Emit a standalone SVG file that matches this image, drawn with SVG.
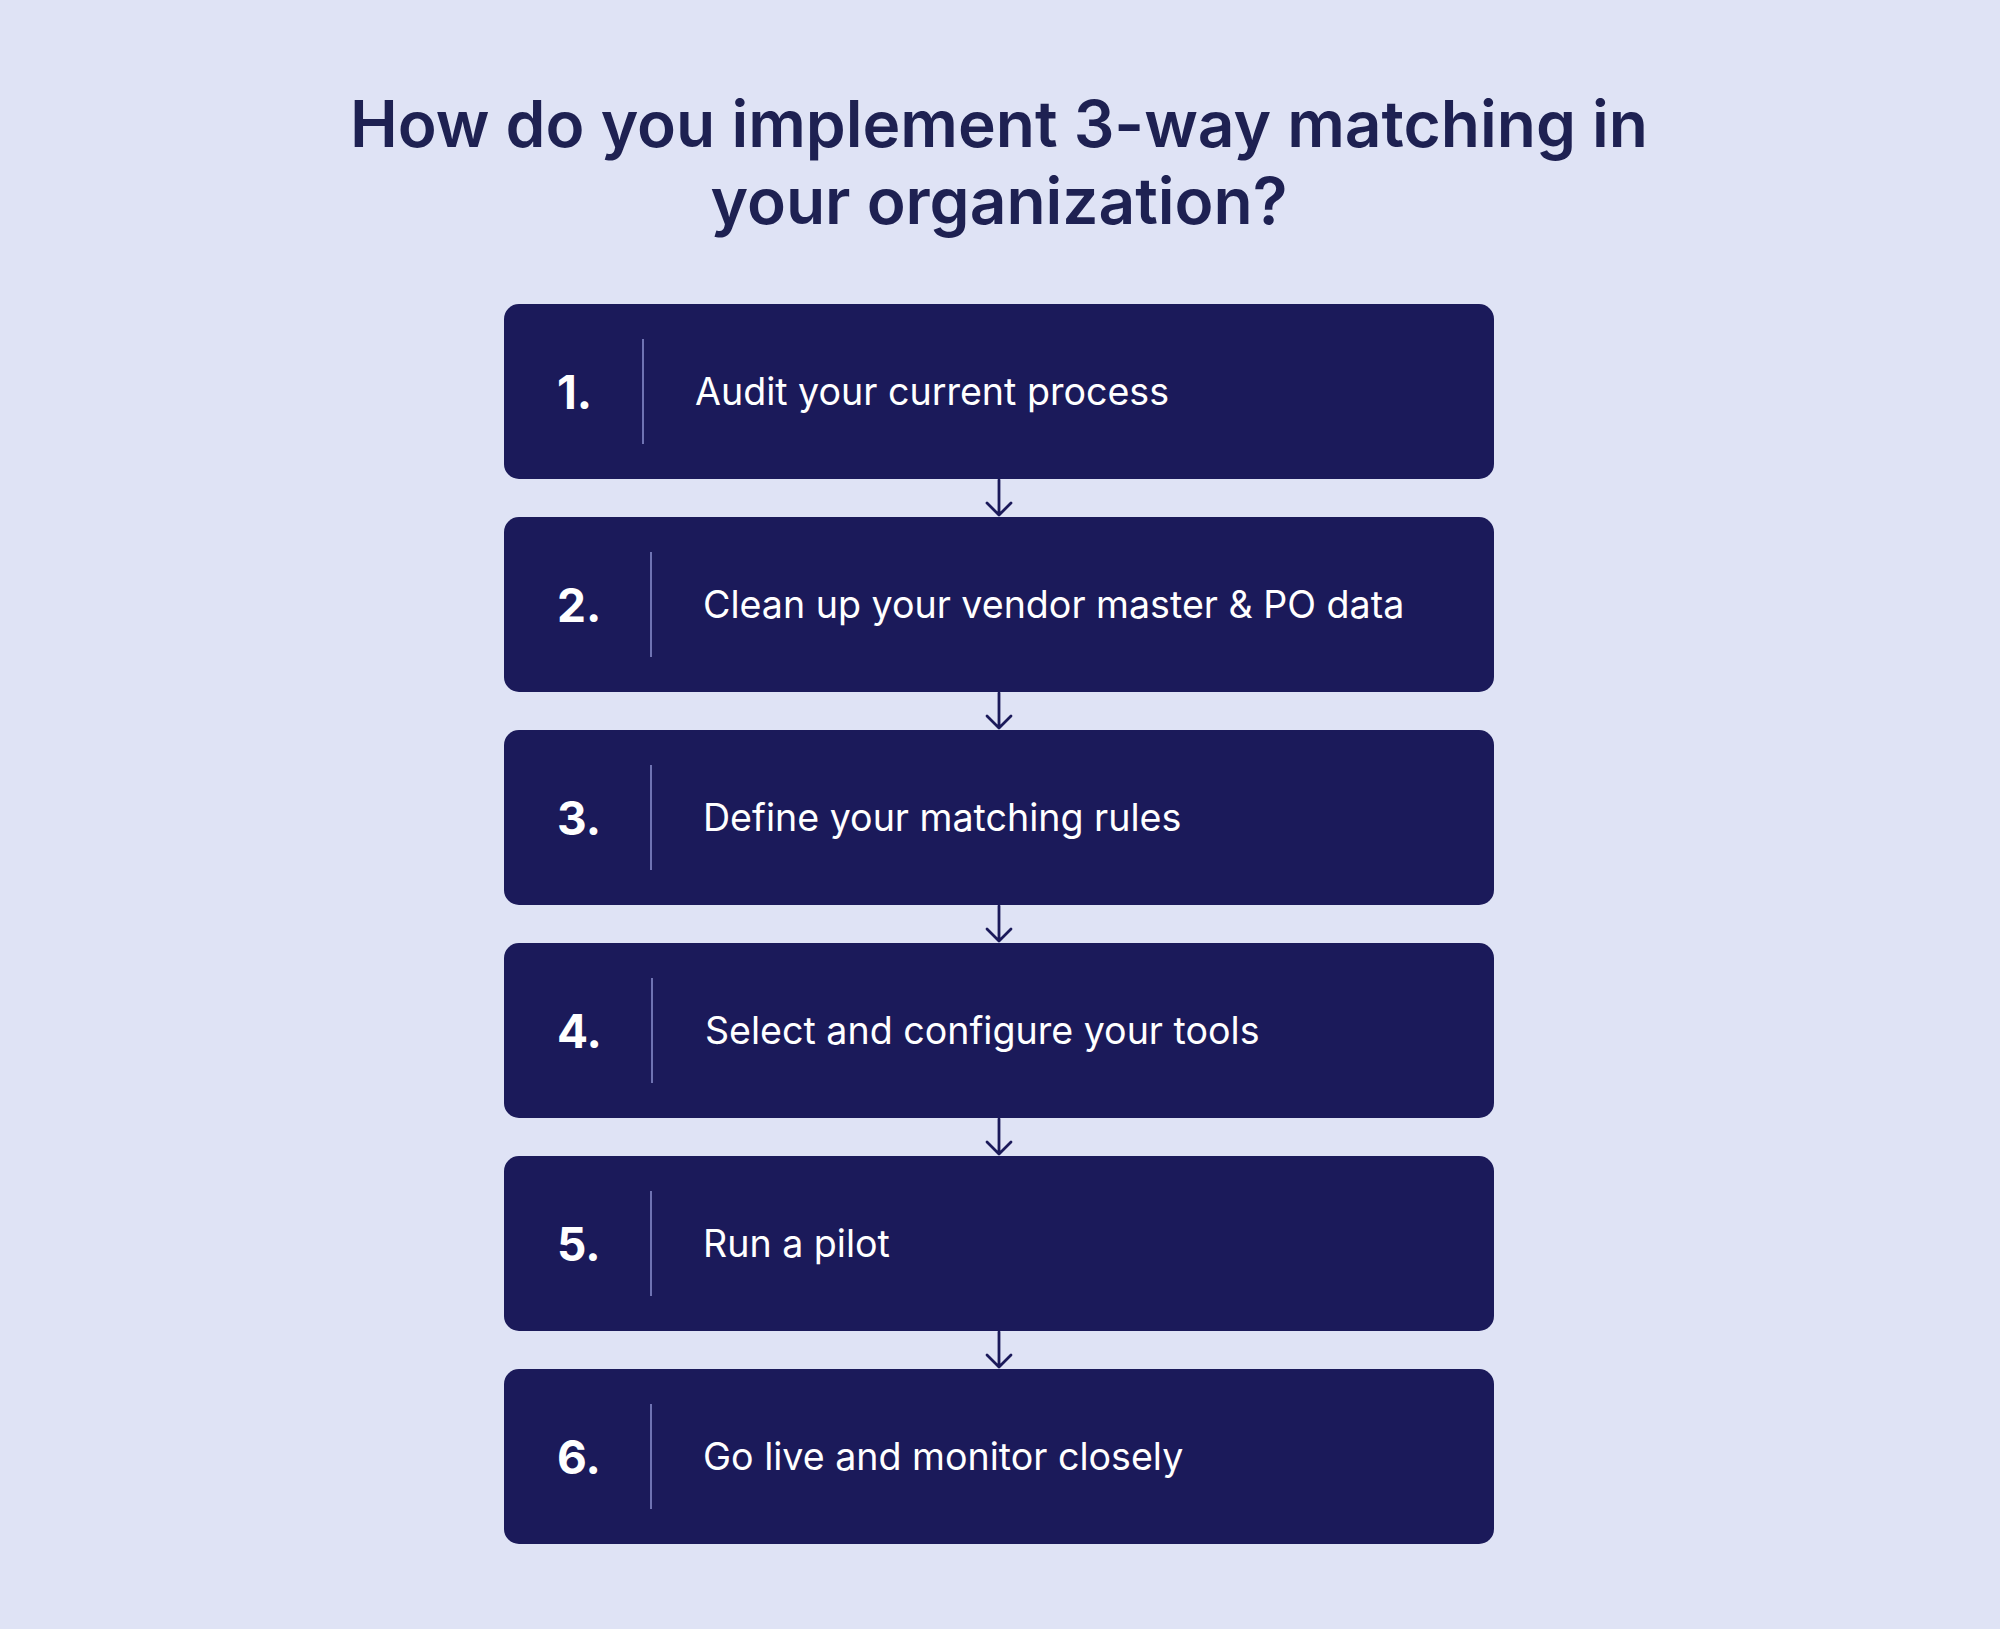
<svg xmlns="http://www.w3.org/2000/svg" width="2000" height="1629" viewBox="0 0 2000 1629">
<defs>
<style>
.bg{fill:#dfe3f5}
.title{font-family:Inter,"Liberation Sans",sans-serif;font-weight:600;font-size:64px;fill:#1e2152;text-anchor:middle}
.box{fill:#1b1a5a}
.num{font-family:Inter,"Liberation Sans",sans-serif;font-weight:700;font-size:46px;fill:#ffffff}
.lbl{font-family:Inter,"Liberation Sans",sans-serif;font-weight:400;font-size:37.6px;fill:#ffffff}
.div{stroke:#6f73b3;stroke-width:2}
.conn{stroke:#1b1a5a;stroke-width:2.8;fill:none;stroke-linecap:round;stroke-linejoin:round}
</style>
</defs>
<rect class="bg" x="0" y="0" width="2000" height="1629"/>
<g id="title">
<text class="title" x="999" y="147">How do you implement 3-way matching in</text>
<text class="title" x="999" y="224">your organization?</text>
</g>
<g id="connectors">
<path class="conn" d="M999 480 V515 M987 503 L999 515 L1011 503"/>
<path class="conn" d="M999 693 V728 M987 716 L999 728 L1011 716"/>
<path class="conn" d="M999 906 V941 M987 929 L999 941 L1011 929"/>
<path class="conn" d="M999 1119 V1154 M987 1142 L999 1154 L1011 1142"/>
<path class="conn" d="M999 1332 V1367 M987 1355 L999 1367 L1011 1355"/>
</g>
<g id="step1">
<rect class="box" x="504" y="304" width="990" height="175" rx="15"/>
<text class="num" x="557" y="409">1.</text>
<line class="div" x1="643" y1="339" x2="643" y2="444"/>
<text class="lbl" x="695" y="405">Audit your current process</text>
</g>
<g id="step2">
<rect class="box" x="504" y="517" width="990" height="175" rx="15"/>
<text class="num" x="557" y="622">2.</text>
<line class="div" x1="651" y1="552" x2="651" y2="657"/>
<text class="lbl" x="703" y="618">Clean up your vendor master &amp; PO data</text>
</g>
<g id="step3">
<rect class="box" x="504" y="730" width="990" height="175" rx="15"/>
<text class="num" x="557" y="835">3.</text>
<line class="div" x1="651" y1="765" x2="651" y2="870"/>
<text class="lbl" x="703" y="831">Define your matching rules</text>
</g>
<g id="step4">
<rect class="box" x="504" y="943" width="990" height="175" rx="15"/>
<text class="num" x="557" y="1048">4.</text>
<line class="div" x1="652" y1="978" x2="652" y2="1083"/>
<text class="lbl" x="705" y="1044">Select and configure your tools</text>
</g>
<g id="step5">
<rect class="box" x="504" y="1156" width="990" height="175" rx="15"/>
<text class="num" x="557" y="1261">5.</text>
<line class="div" x1="651" y1="1191" x2="651" y2="1296"/>
<text class="lbl" x="703" y="1257">Run a pilot</text>
</g>
<g id="step6">
<rect class="box" x="504" y="1369" width="990" height="175" rx="15"/>
<text class="num" x="557" y="1474">6.</text>
<line class="div" x1="651" y1="1404" x2="651" y2="1509"/>
<text class="lbl" x="703" y="1470">Go live and monitor closely</text>
</g>
</svg>
